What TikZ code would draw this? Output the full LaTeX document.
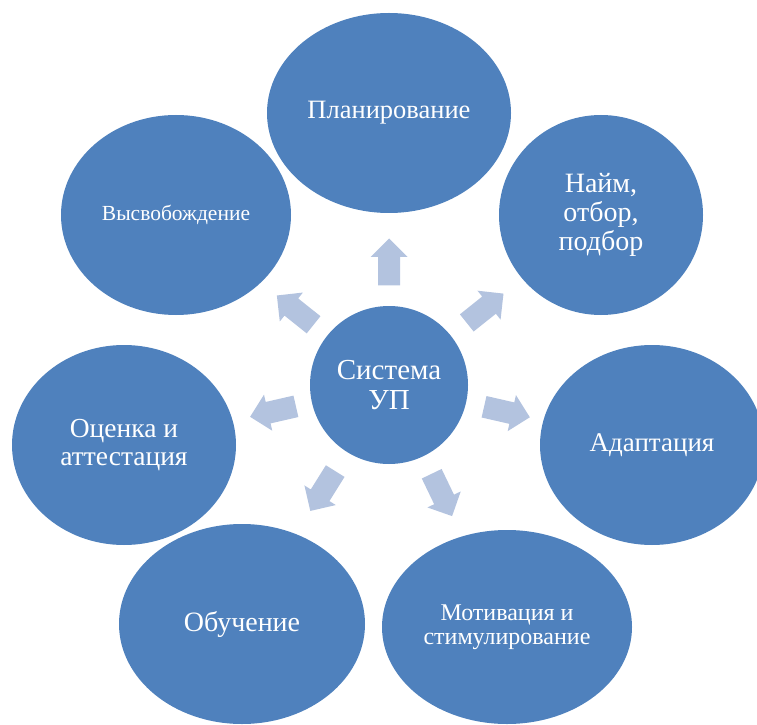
\documentclass[tikz,border=0pt]{standalone}
\usepackage{fontspec}
\setmainfont{Liberation Serif}
\usetikzlibrary{shapes.geometric,calc}
\definecolor{bubble}{HTML}{4F81BD}
\definecolor{pale}{HTML}{B3C3DF}

\begin{document}
\begin{tikzpicture}[x=1pt,y=1pt,
  blob/.style={ellipse,fill=bubble,text=white,inner sep=0pt,align=center}]
  \useasboundingbox (0,0) rectangle (757,724);
  % centre
  \node[blob,minimum size=158pt,font=\fontsize{29}{30}\selectfont] (sys) at (389,339) {Система\\УП};
  % outer ring
  \node[blob,minimum width=244pt,minimum height=200pt,font=\fontsize{26.5}{28}\selectfont] (plan) at (389,611) {Планирование};
  \node[blob,minimum width=204pt,minimum height=200pt,font=\fontsize{28}{29}\selectfont] (hire) at (601,509) {Найм,\\отбор,\\подбор};
  \node[blob,minimum width=224pt,minimum height=200pt,font=\fontsize{27}{29}\selectfont] (adapt) at (652,279) {Адаптация};
  \node[blob,minimum width=250pt,minimum height=194pt,font=\fontsize{24}{24}\selectfont] (motiv) at (507,97) {Мотивация и\\стимулирование};
  \node[blob,minimum width=246pt,minimum height=200pt,font=\fontsize{28}{29}\selectfont] (learn) at (242,100) {Обучение};
  \node[blob,minimum width=224pt,minimum height=200pt,font=\fontsize{27.5}{28}\selectfont] (eval) at (124,279) {Оценка и\\аттестация};
  \node[blob,minimum width=230pt,minimum height=200pt,font=\fontsize{21.5}{24}\selectfont] (free) at (176,509) {Высвобождение};
  % spokes
  \foreach \i/\a/\d in {1/90/123,2/38.6/123,3/-12.9/121,4/-64.3/122,5/-122/125,6/-167.1/119,7/141.4/120}{
    \coordinate (s\i) at ($(sys)+(\a:\d)$);
    \fill[pale,shift={(s\i)},rotate=\a] (-23.5,-11) -- (5,-11) -- (5,-18.5) -- (23.5,0)
      -- (5,18.5) -- (5,11) -- (-23.5,11) -- cycle;
  }
\end{tikzpicture}
\end{document}
